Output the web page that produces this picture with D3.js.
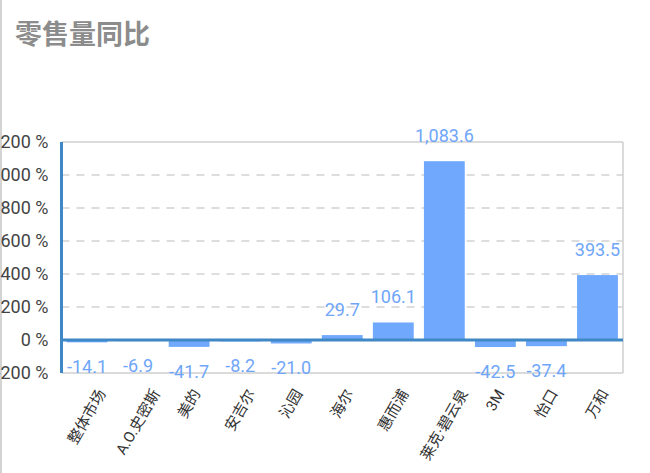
<!DOCTYPE html>
<html>
<head>
<meta charset="utf-8">
<script src="https://cdn.jsdelivr.net/npm/d3@7"></script>
<style>
  body { margin: 0; background: #fff; }
  svg { display: block; font-family: Roboto, "Noto Sans CJK SC", sans-serif; }
</style>
</head>
<body>
<div class="chart"></div>
<script>
// Chart data
const categories = ["整体市场", "A.O.史密斯", "美的", "安吉尔", "沁园", "海尔", "惠而浦", "莱克·碧云泉", "3M", "怡口", "万和"];
const values = [-14.1, -6.9, -41.7, -8.2, -21.0, 29.7, 106.1, 1083.6, -42.5, -37.4, 393.5];
const yTicks = [-200, 0, 200, 400, 600, 800, 1000, 1200];
const title = "零售量同比";

let width = 650;
let height = 473;

let margin = { top: 142, right: 27, bottom: 100, left: 61.5 };

let svg = d3.select(".chart").append("svg")
    .attr("width", width)
    .attr("height", height);

// thin page edge on the left
svg.append("line")
    .attr("x1", 1).attr("x2", 1).attr("y1", 0).attr("y2", height)
    .attr("stroke", "#d4d4d4").attr("stroke-width", 2);

// title
svg.append("text")
    .attr("x", 15)
    .attr("y", 44)
    .attr("font-family", "'Noto Sans CJK SC', sans-serif")
    .attr("font-size", 27)
    .attr("font-weight", "bold")
    .attr("fill", "#8c8c8c")
    .text(title);

const xScale = d3.scaleBand()
    .domain(categories)
    .range([margin.left, width - margin.right])
    .paddingInner(0.2)
    .paddingOuter(0.1);

const yScale = d3.scaleLinear()
    .domain([-200, 1200])
    .range([373, margin.top]);

const plot = svg.append("g");

// dashed grid lines
plot.selectAll(".grid")
    .data(yTicks.filter(d => d > 0 && d < 1200))
    .enter().append("line")
    .attr("class", "grid")
    .attr("x1", margin.left).attr("x2", width - margin.right)
    .attr("y1", d => yScale(d)).attr("y2", d => yScale(d))
    .attr("stroke", "#d2d2d2")
    .attr("stroke-width", 1.5)
    .attr("stroke-dasharray", "8,7");

// frame: top, right, bottom
const frame = [
    [margin.left, yScale(1200), width - margin.right, yScale(1200)],
    [width - margin.right, yScale(1200), width - margin.right, yScale(-200)],
    [margin.left, yScale(-200), width - margin.right, yScale(-200)]
];
plot.selectAll(".frame")
    .data(frame)
    .enter().append("line")
    .attr("x1", d => d[0]).attr("y1", d => d[1])
    .attr("x2", d => d[2]).attr("y2", d => d[3])
    .attr("stroke", "#cfcfcf")
    .attr("stroke-width", 1.5);

// bars
plot.selectAll(".bar")
    .data(values)
    .enter().append("rect")
    .attr("class", "bar")
    .attr("x", (d, i) => xScale(categories[i]))
    .attr("width", xScale.bandwidth())
    .attr("y", d => yScale(Math.max(0, d)))
    .attr("height", d => Math.abs(yScale(d) - yScale(0)))
    .attr("fill", "#6fa8fd");

// zero line
plot.append("line")
    .attr("x1", margin.left).attr("x2", width - margin.right)
    .attr("y1", yScale(0)).attr("y2", yScale(0))
    .attr("stroke", "#3f88c5")
    .attr("stroke-width", 3);

// y axis line
plot.append("line")
    .attr("x1", margin.left).attr("x2", margin.left)
    .attr("y1", yScale(1200)).attr("y2", yScale(-200))
    .attr("stroke", "#3f88c5")
    .attr("stroke-width", 3);

// y tick labels (the widest ones run off the left edge, as in the original)
plot.selectAll(".ytick")
    .data(yTicks)
    .enter().append("text")
    .attr("x", 48.5)
    .attr("y", d => yScale(d))
    .attr("dy", "0.36em")
    .attr("text-anchor", "end")
    .attr("font-size", 18)
    .attr("fill", "#444")
    .text(d => d + " %");

// value labels
const fmt = d3.format(",.1f");
plot.selectAll(".vlabel")
    .data(values)
    .enter().append("text")
    .attr("x", (d, i) => xScale(categories[i]) + xScale.bandwidth() / 2)
    .attr("y", d => d >= 0 ? yScale(d) - 19 : yScale(d) + 31)
    .attr("text-anchor", "middle")
    .attr("font-size", 18)
    .attr("fill", "#6fa6f8")
    .text(d => fmt(d).replace("−", "-"));

// category labels, rotated -60 degrees, box top just under the chart
let labelTop = 387;
plot.selectAll(".xlabel")
    .data(categories)
    .enter().append("text")
    .attr("class", "xlabel")
    .attr("font-size", 15)
    .attr("fill", "#333")
    .attr("text-anchor", "middle")
    .attr("dominant-baseline", "central")
    .text(d => d)
    .each(function (d) {
        let w = this.getComputedTextLength();
        let h = 15;
        let cx = xScale(d) + xScale.bandwidth() / 2;
        let cy = labelTop + (w * Math.sin(Math.PI / 3) + h * Math.cos(Math.PI / 3)) / 2;
        d3.select(this).attr("transform", `translate(${cx},${cy}) rotate(-60)`);
    });
</script>
</body>
</html>
